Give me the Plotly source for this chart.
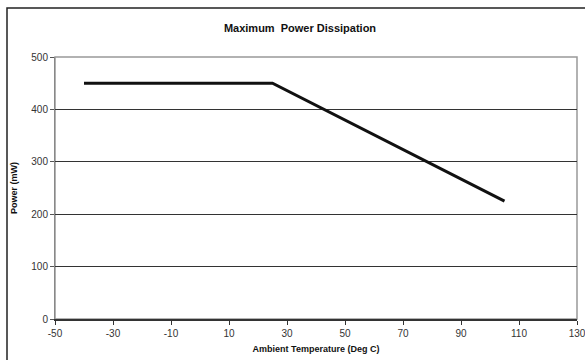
import plotly.graph_objects as go

# derating curve
temp_c = [-40, 25, 105]
power_mw = [450, 450, 225]

x_ticks = [-50, -30, -10, 10, 30, 50, 70, 90, 110, 130]
y_ticks = [0, 100, 200, 300, 400, 500]

fig = go.Figure()

fig.add_trace(go.Scatter(
    x=temp_c,
    y=power_mw,
    mode='lines',
    line=dict(color='#111111', width=3),
    showlegend=False
))

tick_font = dict(family='Liberation Sans, Arial', size=10, color='#333333')
title_font = dict(family='Liberation Sans, Arial', size=9, color='#111111')

fig.update_layout(
    width=585,
    height=360,
    margin=dict(l=55, r=8, t=57, b=41),
    paper_bgcolor='white',
    plot_bgcolor='white',
    title=dict(
        text='<b>Maximum  Power Dissipation</b>',
        font=dict(family='Liberation Sans, Arial', size=11, color='#111111'),
        x=300 / 585,
        xanchor='center',
        y=1 - 28 / 360,
        yanchor='middle'
    ),
    xaxis=dict(
        range=[-50, 130],
        tickvals=x_ticks,
        ticktext=[str(v) for v in x_ticks],  # plain hyphen like the original
        ticks='outside',
        ticklen=4,
        tickcolor='#333333',
        ticklabeloverflow='allow',
        automargin=False,
        showgrid=False,
        zeroline=False,
        showline=True,
        linecolor='#333333',
        linewidth=1.5,
        tickfont=tick_font,
        title=dict(text='<b>Ambient Temperature (Deg C)</b>', font=title_font, standoff=8)
    ),
    yaxis=dict(
        range=[0, 500],
        tickvals=y_ticks,
        ticks='outside',
        ticklen=4,
        tickcolor='#555555',
        automargin=False,
        showgrid=True,
        gridcolor='#333333',
        gridwidth=1,
        zeroline=False,
        showline=True,
        linecolor='#888888',
        linewidth=1,
        tickfont=tick_font,
        title=dict(text='<b>Power (mW)</b>', font=title_font, standoff=12)
    ),
    shapes=[
        # plot area border (top/right in gray)
        dict(type='rect', xref='paper', yref='paper', x0=0, x1=1, y0=0, y1=1,
             line=dict(color='#999999', width=1.5), layer='below'),
        # outer chart frame
        dict(type='rect', xref='paper', yref='paper',
             x0=(7 - 55) / 522, x1=1.2, y0=-0.4, y1=(319 - 8) / 262,
             line=dict(color='#222222', width=1.5))
    ]
)

# drop the browser's default body margin so the figure sits at the page corner
fig.write_html("out.html", config={'displayModeBar': False},
               post_script="document.body.style.margin='0';")
